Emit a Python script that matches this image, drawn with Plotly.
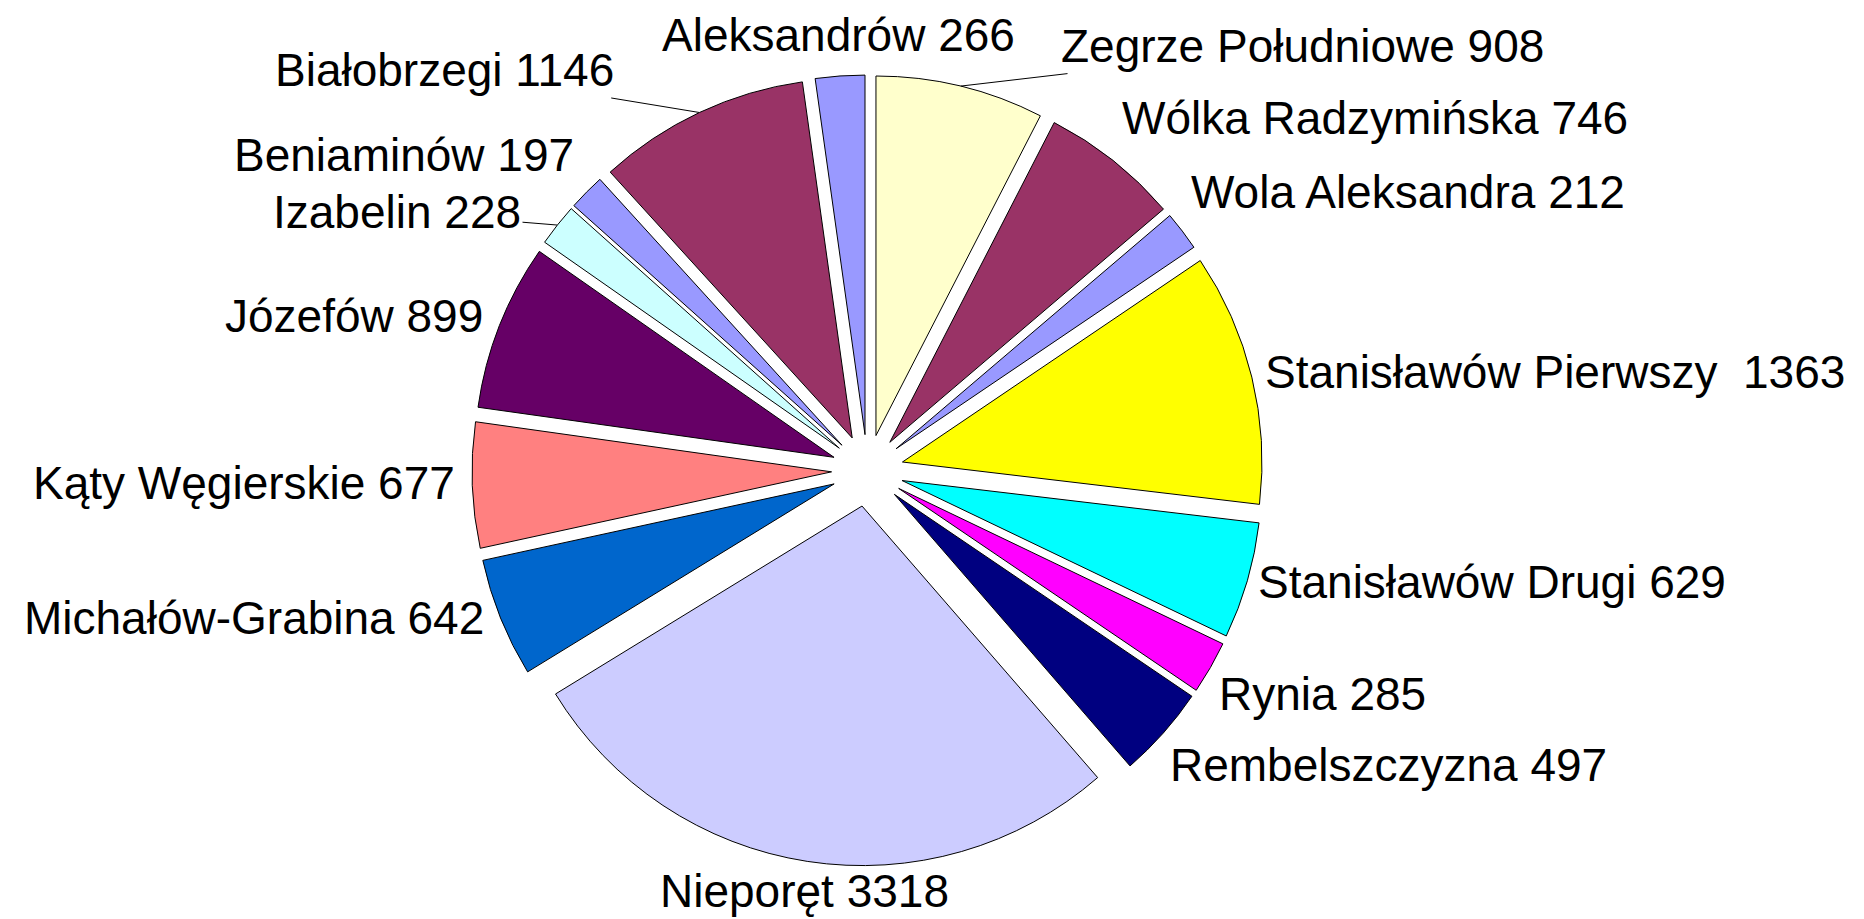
import math
import plotly.graph_objects as go

# ---- data (clockwise from 12 o'clock) ----
categories = [
    "Zegrze Południowe", "Wólka Radzymińska", "Wola Aleksandra",
    "Stanisławów Pierwszy ", "Stanisławów Drugi", "Rynia", "Rembelszczyzna",
    "Nieporęt", "Michałów-Grabina", "Kąty Węgierskie", "Józefów",
    "Izabelin", "Beniaminów", "Białobrzegi", "Aleksandrów",
]
values = [908, 746, 212, 1363, 629, 285, 497, 3318, 642, 677, 899, 228, 197, 1146, 266]
colors = [
    "#FFFFCC", "#993366", "#9999FF", "#FFFF00", "#00FFFF", "#FF00FF", "#000080",
    "#CCCCFF", "#0066CC", "#FF8080", "#660066", "#CCFFFF", "#9999FF", "#993366", "#9999FF",
]

# ---- layout constants ----
W, H = 1864, 919
ML, MR, MT, MB = 0, 145, 66.5, 60.5
PULL = 0.1
FONT = 46
GAP = 15
# labels moved away from their slices in the original, with leader lines (pixel offsets of text centre)
dragged = {
    "Zegrze Południowe": (342, -40),
    "Białobrzegi": (-255, -42),
    "Izabelin": (-160, -13),
}
# small pixel nudges of the other labels (x right, y down)
nudges = {
    "Wólka Radzymińska": (-3, -10),
    "Wola Aleksandra": (-6, -14),
    "Stanisławów Pierwszy ": (-4, 5),
    "Stanisławów Drugi": (-6, -10),
    "Rynia": (-7, 6),
    "Rembelszczyzna": (-7, 5),
    "Nieporęt": (0, -11),
    "Michałów-Grabina": (0, -15),
    "Kąty Węgierskie": (0, -4),
    "Józefów": (0, 5),
    "Beniaminów": (0, -8),
}

pw, ph = W - ML - MR, H - MT - MB
cx, cy = ML + pw / 2, MT + ph / 2
r = min(pw, ph) / 2 / (1 + PULL)
R = r * (1 + PULL)


def to_paper(px, py):
    return (px - ML) / pw, 1 - (py - MT) / ph


fig = go.Figure(go.Pie(
    labels=categories,
    values=values,
    sort=False,
    direction="clockwise",
    rotation=0,
    pull=[PULL] * len(values),
    marker=dict(colors=colors, line=dict(color="#000000", width=1)),
    textinfo="none",
    hoverinfo="label+value",
    showlegend=False,
))

total = sum(values)
annotations = []
cum = 0
for cat, val in zip(categories, values):
    mid = (cum + val / 2) / total * 2 * math.pi
    cum += val
    dx, dy = math.sin(mid), -math.cos(mid)
    text = f"{cat} {val}"
    font = dict(family="Liberation Sans, Arial, sans-serif", size=FONT, color="#000000")
    if cat in dragged:
        ox, oy = dragged[cat]
        px, py = cx + R * dx, cy + R * dy
        x, y = to_paper(px, py)
        annotations.append(dict(
            x=x, y=y, xref="paper", yref="paper", text=text, font=font,
            showarrow=True, arrowhead=0, arrowwidth=1, arrowcolor="#000000",
            ax=ox, ay=oy, xanchor="center", yanchor="middle", standoff=0,
        ))
    else:
        nx, ny = nudges.get(cat, (0, 0))
        px = cx + (R + GAP) * dx + nx
        py = cy + (R + GAP) * dy + dy * FONT * 0.57 + ny
        x, y = to_paper(px, py)
        if dx > 0.25:
            xa = "left"
        elif dx < -0.25:
            xa = "right"
        else:
            xa = "center"
        annotations.append(dict(
            x=x, y=y, xref="paper", yref="paper", text=text, font=font,
            showarrow=False, xanchor=xa, yanchor="middle",
        ))

fig.update_layout(
    width=W, height=H,
    margin=dict(l=ML, r=MR, t=MT, b=MB),
    paper_bgcolor="#FFFFFF", plot_bgcolor="#FFFFFF",
    annotations=annotations,
)

fig.write_html("out.html")
